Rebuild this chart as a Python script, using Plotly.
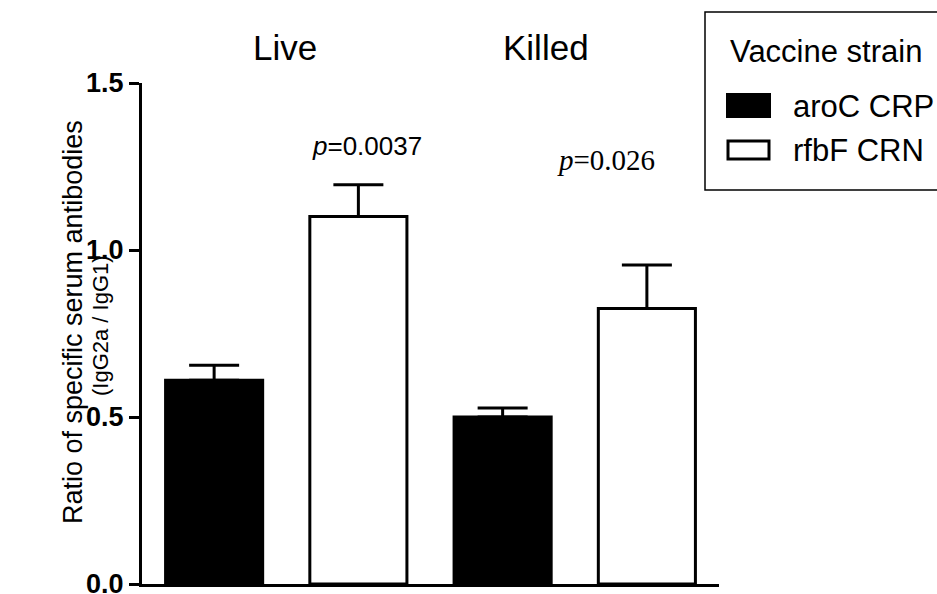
import plotly.graph_objects as go

# ---- data ----
groups = ["Live", "Killed"]
strains = ["aroC CRP", "rfbF CRN"]
aroC_values = [0.61, 0.50]
aroC_errors = [0.045, 0.027]
rfbF_values = [1.10, 0.825]
rfbF_errors = [0.095, 0.13]
p_labels = ["0.0037", "0.026"]
y_ticks = [0.0, 0.5, 1.0, 1.5]
y_title_lines = ["Ratio of specific serum antibodies", "(IgG2a / IgG1)"]
legend_title = "Vaccine strain"

W, H = 937, 594
L, R, T, B = 142, 218, 83, 10
pw, ph = W - L - R, H - T - B


def px_x(p):
    return (p - L) / pw


def px_y(p):
    return (H - B - p) / ph


SANS = "Liberation Sans, Arial, sans-serif"
SERIF = "Liberation Serif, Times New Roman, serif"

fig = go.Figure()
fig.add_trace(go.Bar(
    x=groups, y=aroC_values, name=strains[0],
    marker=dict(color="black", line=dict(color="black", width=3)),
    error_y=dict(type="data", array=aroC_errors, arrayminus=[0] * len(aroC_errors),
                 symmetric=False, color="black", thickness=3, width=25),
    showlegend=False,
))
fig.add_trace(go.Bar(
    x=groups, y=rfbF_values, name=strains[1],
    marker=dict(color="white", line=dict(color="black", width=3)),
    error_y=dict(type="data", array=rfbF_errors, arrayminus=[0] * len(rfbF_errors),
                 symmetric=False, color="black", thickness=3, width=25),
    showlegend=False,
))


def ann(xp, yp, text, family=SANS, size=30, angle=0, xanchor="center"):
    return dict(x=px_x(xp), y=px_y(yp), xref="paper", yref="paper", text=text,
                showarrow=False, xanchor=xanchor, yanchor="middle", textangle=angle,
                font=dict(family=family, size=size, color="black"))


annotations = [
    ann(285, 48, groups[0], size=35),
    ann(546, 48, groups[1], size=35),
    ann(367, 146, "<i>p</i>=" + p_labels[0], size=26),
    ann(606, 160, "<i>p</i>=" + p_labels[1], family=SERIF, size=29),
    ann(73, 322, y_title_lines[0], size=27, angle=-90),
    ann(100, 326, y_title_lines[1], size=22, angle=-90),
    ann(728, 52, legend_title, size=31, xanchor="left"),
    ann(791, 106, strains[0], size=31, xanchor="left"),
    ann(791, 150, strains[1], size=31, xanchor="left"),
]

shapes = [
    dict(type="rect", xref="paper", yref="paper", x0=px_x(705), x1=px_x(950),
         y0=px_y(190), y1=px_y(12), line=dict(color="black", width=1.5), fillcolor="rgba(0,0,0,0)"),
    dict(type="rect", xref="paper", yref="paper", x0=px_x(727), x1=px_x(770),
         y0=px_y(117), y1=px_y(94), line=dict(color="black", width=2), fillcolor="black"),
    dict(type="rect", xref="paper", yref="paper", x0=px_x(728), x1=px_x(769),
         y0=px_y(159), y1=px_y(141), line=dict(color="black", width=3), fillcolor="white"),
]

fig.update_layout(
    width=W, height=H,
    margin=dict(l=L, r=R, t=T, b=B, autoexpand=False),
    paper_bgcolor="white", plot_bgcolor="white",
    barmode="group", bargap=0.0, bargroupgap=0.327,
    annotations=annotations, shapes=shapes,
    showlegend=False,
)
fig.update_xaxes(showline=True, linecolor="black", linewidth=3, showticklabels=False,
                 ticks="", showgrid=False, zeroline=False, range=[-0.5, 1.5])
fig.update_yaxes(showline=True, linecolor="black", linewidth=3, range=[0, 1.5],
                 tickvals=y_ticks, ticktext=[f"{v:.1f}" for v in y_ticks],
                 ticks="outside", ticklen=10, tickwidth=3, tickcolor="black",
                 tickfont=dict(family=SANS, size=27, color="black", weight="bold"),
                 ticklabeloverflow="allow",
                 showgrid=False, zeroline=False)

fig.write_html("out.html")
